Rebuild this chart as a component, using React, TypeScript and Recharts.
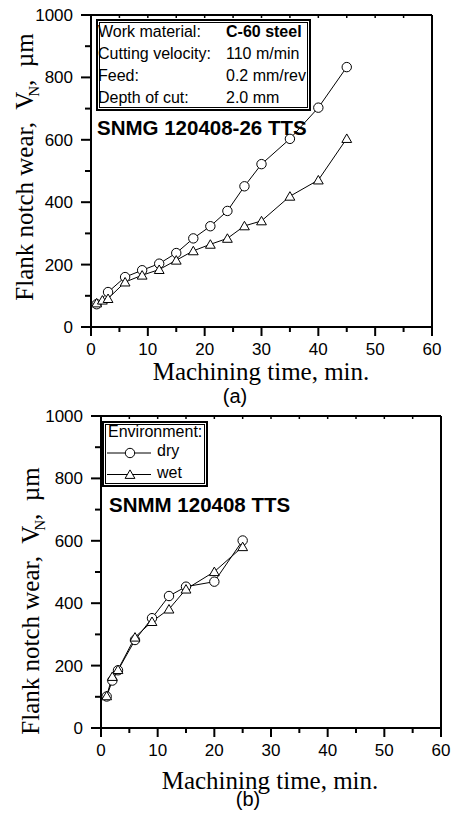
import React from 'react'
import { LineChart, Line, XAxis, YAxis, Legend } from 'recharts'

// (a) SNMG 120408-26 TTS, C-60 steel
const timeA = [1, 2, 3, 6, 9, 12, 15, 18, 21, 24, 27, 30, 35, 40, 45]
const circleA = [73, null, 112, 160, 182, 203, 237, 284, 323, 372, 451, 522, 603, 703, 833]
const triangleA = [77, 86, 91, 144, 166, 184, 214, 244, 265, 284, 324, 340, 419, 471, 604]

// (b) SNMM 120408 TTS, dry vs wet
const timeB = [1, 2, 3, 6, 9, 12, 15, 20, 25]
const dryB = [101, 152, 185, 282, 352, 423, 453, 469, 601]
const wetB = [103, 165, 187, 291, 341, 381, 445, 501, 581]

const xTicks = [0, 5, 10, 15, 20, 25, 30, 35, 40, 45, 50, 55, 60]
const yTicks = [0, 100, 200, 300, 400, 500, 600, 700, 800, 900, 1000]

const infoRows = [
  ['Work material:', 'C-60 steel'],
  ['Cutting velocity:', '110 m/min'],
  ['Feed:', '0.2 mm/rev'],
  ['Depth of cut:', '2.0 mm'],
]

const SANS = '"Liberation Sans", Arial, sans-serif'
const SERIF = '"Liberation Serif", "Times New Roman", serif'
const axisLine = { stroke: '#000', strokeWidth: 2 }

const dataA = timeA.map((t, i) => ({ t, first: circleA[i], second: triangleA[i] }))
const dataB = timeB.map((t, i) => ({ t, first: dryB[i], second: wetB[i] }))

function BottomTick(props: any) {
  const { x, y, payload } = props
  const major = payload.value % 10 === 0
  return (
    <g>
      <line x1={x} y1={y} x2={x} y2={y + (major ? 9 : 5)} stroke="#000" strokeWidth={2} />
      {major && (
        <text x={x} y={y + 28} textAnchor="middle" fontFamily={SANS} fontSize={17} fill="#000">
          {payload.value}
        </text>
      )}
    </g>
  )
}

function LeftTick(props: any) {
  const { x, y, payload } = props
  const major = payload.value % 200 === 0
  return (
    <g>
      <line x1={x - (major ? 10 : 6)} y1={y} x2={x} y2={y} stroke="#000" strokeWidth={2} />
      {major && (
        <text x={x - 18} y={y + 6} textAnchor="end" fontFamily={SANS} fontSize={17} fill="#000">
          {payload.value}
        </text>
      )}
    </g>
  )
}

function TopTick(props: any) {
  const { x, y } = props
  return <line x1={x} y1={y} x2={x} y2={y + 3} stroke="#000" strokeWidth={1.5} />
}

function RightTick(props: any) {
  const { x, y } = props
  return <line x1={x - 3} y1={y} x2={x} y2={y} stroke="#000" strokeWidth={1.5} />
}

function CircleDot(props: any) {
  const { cx, cy } = props
  if (cx == null || cy == null) return <g />
  return <circle cx={cx} cy={cy} r={4.7} fill="#fff" stroke="#000" strokeWidth={1} />
}

function TriangleDot(props: any) {
  const { cx, cy } = props
  if (cx == null || cy == null) return <g />
  return (
    <polygon
      points={`${cx},${cy - 4.6} ${cx + 4.9},${cy + 3.9} ${cx - 4.9},${cy + 3.9}`}
      fill="#fff"
      stroke="#000"
      strokeWidth={1}
    />
  )
}

function EnvLegend() {
  return (
    <div
      style={{
        position: 'relative',
        boxSizing: 'border-box',
        width: 106,
        height: 66,
        border: '2px solid #000',
        boxShadow: 'inset 0 0 0 1px #fff, inset 0 0 0 2px #000',
        background: '#fff',
        fontFamily: SANS,
        fontSize: 16,
        lineHeight: 1,
        color: '#000',
      }}
    >
      <svg width={106} height={66} style={{ position: 'absolute', left: -2, top: -2 }}>
        <line x1={5} y1={32} x2={49} y2={32} stroke="#000" strokeWidth={1} />
        <CircleDot cx={28} cy={32} />
        <line x1={5} y1={53.5} x2={49} y2={53.5} stroke="#000" strokeWidth={1} />
        <TriangleDot cx={28} cy={53.5} />
      </svg>
      <span style={{ position: 'absolute', left: 4, top: 1, whiteSpace: 'nowrap' }}>Environment:</span>
      <span style={{ position: 'absolute', left: 53, top: 20 }}>dry</span>
      <span style={{ position: 'absolute', left: 53, top: 42 }}>wet</span>
    </div>
  )
}

function Panel({ data, height, yAxisWidth, margin, legend }: any) {
  return (
    <LineChart width={451} height={height} data={data} margin={margin}>
      <XAxis
        xAxisId="top"
        orientation="top"
        dataKey="t"
        type="number"
        domain={[0, 60]}
        ticks={xTicks}
        interval={0}
        height={1}
        tickSize={0}
        tickMargin={0}
        axisLine={axisLine}
        tickLine={false}
        tick={<TopTick />}
      />
      <XAxis
        xAxisId="main"
        dataKey="t"
        type="number"
        domain={[0, 60]}
        ticks={xTicks}
        interval={0}
        height={1}
        tickSize={0}
        tickMargin={0}
        axisLine={axisLine}
        tickLine={false}
        tick={<BottomTick />}
      />
      <YAxis
        yAxisId="main"
        type="number"
        domain={[0, 1000]}
        ticks={yTicks}
        interval={0}
        width={yAxisWidth}
        tickSize={0}
        tickMargin={0}
        axisLine={axisLine}
        tickLine={false}
        tick={<LeftTick />}
      />
      <YAxis
        yAxisId="right"
        orientation="right"
        type="number"
        domain={[0, 1000]}
        ticks={yTicks}
        interval={0}
        width={1}
        tickSize={0}
        tickMargin={0}
        axisLine={axisLine}
        tickLine={false}
        tick={<RightTick />}
      />
      {legend}
      <Line
        xAxisId="main"
        yAxisId="main"
        dataKey="first"
        name="dry"
        stroke="#000"
        strokeWidth={1}
        connectNulls
        dot={<CircleDot />}
        activeDot={false}
        isAnimationActive={false}
      />
      <Line
        xAxisId="main"
        yAxisId="main"
        dataKey="second"
        name="wet"
        stroke="#000"
        strokeWidth={1}
        dot={<TriangleDot />}
        activeDot={false}
        isAnimationActive={false}
      />
    </LineChart>
  )
}

function YTitle({ left, top }: { left: number; top: number }) {
  return (
    <div
      style={{
        position: 'absolute',
        left,
        top,
        transform: 'translate(-50%, -50%) rotate(-90deg)',
        fontFamily: SERIF,
        fontSize: 25,
        lineHeight: 1,
        whiteSpace: 'nowrap',
      }}
    >
      Flank notch wear,&nbsp; V
      <span style={{ fontSize: 15, position: 'relative', top: 6, marginLeft: -5 }}>N</span>,&nbsp; µm
    </div>
  )
}

function Centered({ x, y, size, family, children }: any) {
  return (
    <div
      style={{
        position: 'absolute',
        left: x,
        top: y,
        transform: 'translate(-50%, -50%)',
        fontFamily: family,
        fontSize: size,
        lineHeight: 1,
        whiteSpace: 'nowrap',
      }}
    >
      {children}
    </div>
  )
}

export default function App() {
  return (
    <div style={{ position: 'absolute', left: 0, top: 0, width: 451, height: 818, background: '#fff', color: '#000' }}>
      <div style={{ position: 'absolute', left: 0, top: 0, width: 451, height: 400 }}>
        <Panel data={dataA} height={400} yAxisWidth={91} margin={{ top: 14, right: 18, bottom: 72, left: 0 }} />
        <div
          style={{
            position: 'absolute',
            left: 96,
            top: 19,
            width: 215,
            height: 92,
            boxSizing: 'border-box',
            border: '2px solid #000',
            boxShadow: 'inset 0 0 0 1px #fff, inset 0 0 0 2px #000',
            fontFamily: SANS,
            fontSize: 16,
            lineHeight: 1,
          }}
        >
          {infoRows.map(([k, v], i) => (
            <React.Fragment key={k}>
              <span style={{ position: 'absolute', left: 0, top: 3 + i * 22, whiteSpace: 'nowrap' }}>{k}</span>
              <span
                style={{
                  position: 'absolute',
                  left: 128,
                  top: 3 + i * 22,
                  whiteSpace: 'nowrap',
                  fontWeight: i === 0 ? 'bold' : 'normal',
                }}
              >
                {v}
              </span>
            </React.Fragment>
          ))}
        </div>
        <div style={{ position: 'absolute', left: 97, top: 118, fontFamily: SANS, fontSize: 20.5, fontWeight: 'bold', lineHeight: 1, whiteSpace: 'nowrap' }}>
          SNMG 120408-26 TTS
        </div>
        <YTitle left={24} top={167} />
        <Centered x={261} y={371} size={25} family={SERIF}>Machining time, min.</Centered>
      </div>
      <Centered x={235} y={396} size={20} family={SANS}>(a)</Centered>
      <div style={{ position: 'absolute', left: 0, top: 400, width: 451, height: 418 }}>
        <Panel
          data={dataB}
          height={418}
          yAxisWidth={101}
          margin={{ top: 15, right: 9, bottom: 89, left: 0 }}
          legend={
            <Legend
              layout="horizontal"
              verticalAlign="middle"
              align="center"
              content={<EnvLegend />}
              wrapperStyle={{ left: 102, top: 21, width: 106, height: 66 }}
            />
          }
        />
        <div style={{ position: 'absolute', left: 109, top: 95, fontFamily: SANS, fontSize: 20.5, fontWeight: 'bold', lineHeight: 1, whiteSpace: 'nowrap' }}>
          SNMM 120408 TTS
        </div>
        <YTitle left={30} top={201} />
        <Centered x={270} y={380} size={25} family={SERIF}>Machining time, min.</Centered>
        <Centered x={248} y={399} size={20} family={SANS}>(b)</Centered>
      </div>
    </div>
  )
}
